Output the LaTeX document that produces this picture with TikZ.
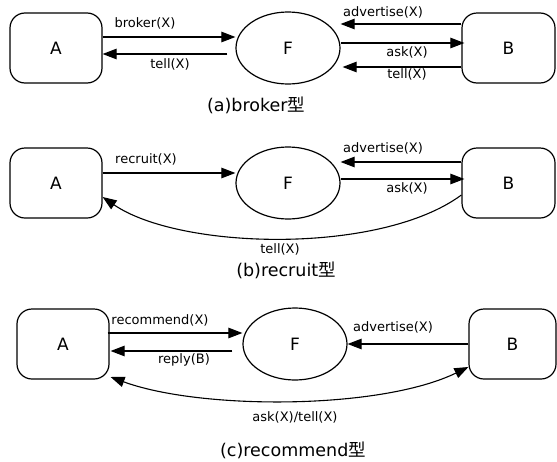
\documentclass[tikz,border=0pt]{standalone}
\usepackage{fontspec}
\setmainfont{DejaVu Sans}
\newfontfamily\cjk{Noto Sans CJK JP}
\usetikzlibrary{arrows.meta,shapes.geometric}

\begin{document}
\begin{tikzpicture}[x=1pt,y=-1pt,
  agent/.style={draw, line width=1.2pt, rounded corners=15pt,
    minimum width=92pt, minimum height=70pt, inner sep=0pt,
    font=\fontsize{17}{20}\selectfont},
  fac/.style={draw, ellipse, line width=1.2pt, minimum width=104pt,
    minimum height=72pt, inner sep=0pt, font=\fontsize{17}{20}\selectfont},
  msg/.style={line width=1.1pt, -{Triangle[length=14pt,width=10.5pt]}},
  bimsg/.style={line width=1.1pt, {Triangle[length=14pt,width=10.5pt]}-{Triangle[length=14pt,width=10.5pt]}},
  lbl/.style={font=\fontsize{13}{15}\selectfont, inner sep=0pt},
  ttl/.style={font=\fontsize{17.5}{20}\selectfont, inner sep=0pt}]

\path[use as bounding box] (0,0) rectangle (557,461);

% ---------- (a) broker ----------
\node[agent] (A1) at (56,48) {A};
\node[fac]   (F1) at (288,48) {F};
\node[agent, minimum width=93pt] (B1) at (508.5,48) {B};

\draw[msg] ([yshift=11pt]A1.east) -- ([yshift=11pt]F1.west);
\draw[msg] ([xshift=-8pt,yshift=-6pt]F1.west) -- ([yshift=-6pt]A1.east);
\draw[msg] ([yshift=24pt]B1.west) -- ([yshift=24pt]F1.east);
\draw[msg] ([yshift=5pt]F1.east) -- ([xshift=3pt,yshift=5pt]B1.west);
\draw[msg] ([yshift=-19pt]B1.west) -- ([xshift=2pt,yshift=-19pt]F1.east);

\node[lbl] (la1) at (145,23) {broker(X)};
\node[lbl] (la2) at (170,64) {tell(X)};
\node[lbl] (la3) at (383,12) {advertise(X)};
\node[lbl] (la4) at (407,52) {ask(X)};
\node[lbl] (la5) at (407,74) {tell(X)};
\node[ttl] (ta) at (256,105) {(a)broker{\cjk 型}};

% ---------- (b) recruit ----------
\node[agent] (A2) at (56,183) {A};
\node[fac]   (F2) at (288,183) {F};
\node[agent, minimum width=93pt] (B2) at (508.5,183) {B};

\draw[msg] ([yshift=10pt]A2.east) -- ([yshift=10pt]F2.west);
\draw[msg] ([yshift=21pt]B2.west) -- ([yshift=21pt]F2.east);
\draw[msg] ([yshift=4pt]F2.east) -- ([xshift=3pt,yshift=4pt]B2.west);
\draw[msg] ([yshift=-12pt]B2.west) .. controls (380,255) and (180,250) .. ([yshift=-14pt]A2.east);

\node[lbl] (lb1) at (146,159) {recruit(X)};
\node[lbl] (lb2) at (383,148) {advertise(X)};
\node[lbl] (lb3) at (407,188) {ask(X)};
\node[lbl] (lb4) at (280,249) {tell(X)};
\node[ttl] (tb) at (286,270) {(b)recruit{\cjk 型}};

% ---------- (c) recommend ----------
\node[agent] (A3) at (63,344) {A};
\node[fac]   (F3) at (295,344) {F};
\node[agent, minimum width=87pt] (B3) at (512.5,344) {B};

\draw[msg] ([xshift=-2pt,yshift=11pt]A3.east) -- ([yshift=11pt]F3.west);
\draw[msg] ([xshift=-10pt,yshift=-7pt]F3.west) -- ([xshift=1pt,yshift=-7pt]A3.east);
\draw[msg] (B3.west) -- (F3.east);
\draw[bimsg] ([xshift=1pt,yshift=-33pt]A3.east) .. controls (200,410) and (380,410) .. ([yshift=-23pt]B3.west);

\node[lbl] (lc1) at (160,320) {recommend(X)};
\node[lbl] (lc2) at (184,360) {reply(B)};
\node[lbl] (lc3) at (393,327) {advertise(X)};
\node[lbl] (lc4) at (295,417) {ask(X)/tell(X)};
\node[ttl] (tc) at (293,450) {(c)recommend{\cjk 型}};
\end{tikzpicture}
\end{document}
